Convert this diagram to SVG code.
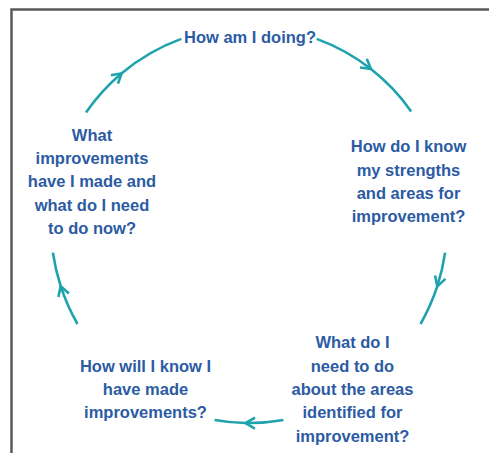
<svg xmlns="http://www.w3.org/2000/svg" width="489" height="453" viewBox="0 0 489 453">
  <style>
    .frame { fill: none; stroke: #5a5a5a; stroke-width: 2.5; }
    .arc { fill: none; stroke: #1ea2ad; stroke-width: 2.6; marker-mid: url(#chev); }
    .lbl { font-family: "Liberation Sans", Arial, sans-serif; font-weight: bold; font-size: 16.5px; fill: #2c5ba3; text-anchor: middle; }
  </style>
  <defs>
    <marker id="chev" markerUnits="userSpaceOnUse" orient="auto" markerWidth="24" markerHeight="24" refX="0" refY="0" viewBox="-12 -12 24 24" overflow="visible">
      <path d="M -9.5,-5.5 L 0,0 L -9.5,5.5" fill="none" stroke="#1ea2ad" stroke-width="2.6" stroke-linejoin="miter"/>
    </marker>
  </defs>
  <rect width="489" height="453" fill="#ffffff"/>
  <path class="frame" d="M 11.5 453 V 9.5 H 489"/>

  <g id="connectors">
    <path class="arc" d="M 86.0 112.6 A 198 198 0 0 1 121.7 73.3 A 198 198 0 0 1 181.3 38.9"/>
    <path class="arc" d="M 316.7 38.9 A 198 198 0 0 1 370.9 69.0 A 198 198 0 0 1 411.2 111.4"/>
    <path class="arc" d="M 445.1 252.6 A 198 198 0 0 1 437.3 286.2 A 198 198 0 0 1 420.5 324"/>
    <path class="arc" d="M 283.4 420.0 A 198 198 0 0 1 245.5 423.0 A 198 198 0 0 1 214.6 420.0"/>
    <path class="arc" d="M 77.5 324 A 198 198 0 0 1 60.7 286.2 A 198 198 0 0 1 52.9 252.6"/>
  </g>

  <g id="node-doing">
    <text class="lbl" x="250" y="42.7">How am I doing?</text>
  </g>
  <g id="node-know">
    <text class="lbl" x="408.5" y="152.3">How do I know</text>
    <text class="lbl" x="408.5" y="175.6">my strengths</text>
    <text class="lbl" x="408.5" y="198.9">and areas for</text>
    <text class="lbl" x="408.5" y="222.3">improvement?</text>
  </g>
  <g id="node-need">
    <text class="lbl" x="352.5" y="348.3">What do I</text>
    <text class="lbl" x="352.5" y="371.6">need to do</text>
    <text class="lbl" x="352.5" y="394.9">about the areas</text>
    <text class="lbl" x="352.5" y="418.3">identified for</text>
    <text class="lbl" x="352.5" y="441.6">improvement?</text>
  </g>
  <g id="node-will">
    <text class="lbl" x="145.5" y="371.6">How will I know I</text>
    <text class="lbl" x="145.5" y="394.9">have made</text>
    <text class="lbl" x="145.5" y="418.3">improvements?</text>
  </g>
  <g id="node-improvements">
    <text class="lbl" x="92" y="140.7">What</text>
    <text class="lbl" x="92" y="164.0">improvements</text>
    <text class="lbl" x="92" y="187.3">have I made and</text>
    <text class="lbl" x="92" y="210.7">what do I need</text>
    <text class="lbl" x="92" y="234.0">to do now?</text>
  </g>
</svg>
